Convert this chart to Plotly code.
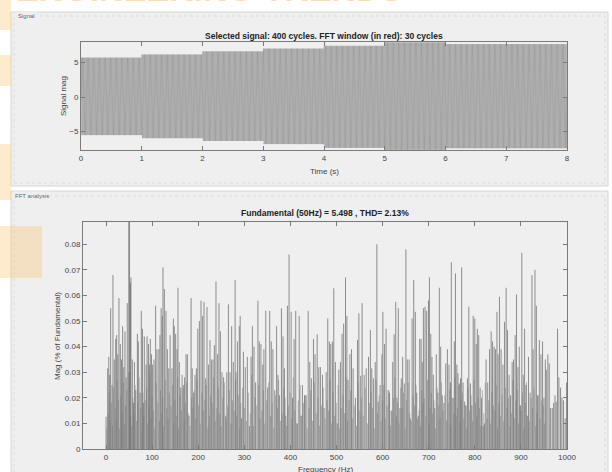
import plotly.graph_objects as go

# ---------------- data ----------------
# Top panel: 50 Hz signal, 400 cycles over 8 s, peak levels per time segment
signal_freq_hz = 50
signal_cycles = 400
seg_start_s = [0, 1, 2, 3, 4, 5, 6]
seg_end_s = [1, 2, 3, 4, 5, 6, 8]
seg_pos_peak = [5.70, 6.15, 6.60, 7.00, 7.40, 7.90, 7.65]
seg_neg_peak = [-5.50, -5.95, -6.35, -6.80, -7.35, -7.63, -7.40]

# Bottom panel: FFT bars (Hz, % of fundamental)
fund_freq = 50
fund_mag = 100.0
fft_freq = [
    0, 3.5, 6, 8, 10, 13, 15, 18, 21, 23, 25.5, 28, 31, 33.5, 36, 38.5, 41, 43.5, 46,
    53, 54, 57, 59.5, 61.5, 64.5, 68, 70, 74, 76.5, 79, 81, 83, 87, 89, 92, 94, 96, 98.5,
    101, 104, 107.5, 110.5, 114.5, 117, 119.5, 122, 123.5, 126.5, 130, 133, 136, 139, 143,
    146, 148, 151, 154, 156, 159, 162, 165, 168.5, 170.5, 173.5, 176.5, 180, 184.5, 187,
    190, 193, 196, 199, 202.5, 206, 209.5, 212.5, 216, 219, 222.5, 225.5, 228.5, 232, 235,
    238.5, 242, 245, 248, 251.5, 255, 259.5, 262, 265.5, 269, 272.5, 276, 280, 282, 285,
    289, 291, 294, 298, 302, 306.5, 311, 314.5, 317.5, 321, 324.5, 329.5, 332.5, 336, 340,
    342.5, 346.5, 350.5, 355, 358.5, 362, 366, 370, 373, 376, 380.5, 384, 387, 390, 393.5,
    397, 401.5, 404.5, 408, 411.5, 415, 419, 423, 426, 430.5, 434, 438.5, 442, 445.5, 450,
    453.5, 458, 461.5, 465, 469.5, 473, 477.5, 481, 484.5, 487.5, 491, 494, 497.5, 501.5,
    505, 508.5, 512, 515.5, 519.5, 522.5, 525, 529, 532.5, 536, 541, 545.5, 548.5, 552.5,
    555.5, 560, 564.5, 569.5, 573.5, 576.5, 580, 584, 587.5, 590.5, 594.5, 598.5, 600.5,
    604, 607.5, 612, 615, 618.5, 622, 625, 628.5, 631, 634, 637.5, 640.5, 643.5, 647, 650.5,
    653.5, 657.5, 660, 664, 667.5, 671, 674, 677.5, 680.5, 683.5, 686, 688.5, 692, 695.5,
    699.5, 701.5, 704.5, 707, 710, 713, 716.5, 720, 723, 726, 729.5, 733, 737, 740.5, 744,
    747, 749, 753, 755.5, 758, 761, 763.5, 766.5, 769, 771.5, 774.5, 778, 781, 784, 787,
    790.5, 793.5, 796.5, 800, 803, 805.5, 808.5, 811.5, 814.5, 818, 821, 824.5, 828, 832,
    835.5, 838.5, 842, 845, 848, 850.5, 853.5, 857, 861, 864.5, 868, 871, 874.5, 877.5, 881,
    884, 887.5, 890.5, 893.5, 896.5, 899, 902, 905, 908, 911, 913.5, 916.5, 920, 924, 926.5,
    930.5, 933.5, 936, 940, 943.5, 947, 950, 953, 955, 958.5, 961.5, 964.5, 968, 971, 974,
    976.5, 979.5, 982.5, 986, 989, 992.5, 996, 999,
]
fft_mag = [
    0.0126, 0.0315, 0.036, 0.029, 0.055, 0.025, 0.068, 0.035, 0.043, 0.0445, 0.037, 0.059,
    0.041, 0.035, 0.048, 0.032, 0.046, 0.028, 0.057,
    0.065, 0.067, 0.035, 0.018, 0.034, 0.023, 0.045, 0.042, 0.022, 0.054, 0.047, 0.018,
    0.044, 0.033, 0.044, 0.041, 0.033, 0.043, 0.037,
    0.033, 0.035, 0.056, 0.039, 0.039, 0.0445, 0.055, 0.052, 0.071, 0.0625, 0.054, 0.039,
    0.0315, 0.0445, 0.0315,
    0.051, 0.048, 0.045, 0.039, 0.063, 0.034, 0.024, 0.029, 0.025, 0.028, 0.037, 0.037,
    0.013, 0.059, 0.0315,
    0.022, 0.029, 0.0315, 0.047, 0.050, 0.058, 0.052, 0.0575, 0.0276, 0.0555, 0.033, 0.0425,
    0.035, 0.035, 0.0406,
    0.0654, 0.037, 0.057, 0.046, 0.030, 0.028, 0.013, 0.030, 0.0565, 0.030, 0.048, 0.034,
    0.066, 0.030, 0.042,
    0.048, 0.052, 0.012, 0.038, 0.032, 0.036, 0.009, 0.036, 0.048, 0.040, 0.026, 0.058,
    0.042, 0.041, 0.033,
    0.039, 0.054, 0.024, 0.054, 0.042, 0.039, 0.023, 0.048, 0.029, 0.021, 0.055, 0.044,
    0.0315, 0.013, 0.056,
    0.076, 0.0536, 0.020, 0.043, 0.054, 0.010, 0.052, 0.013, 0.025, 0.021, 0.021, 0.054,
    0.034, 0.0276, 0.043,
    0.037, 0.0448, 0.032, 0.032, 0.029, 0.016, 0.030, 0.051, 0.042, 0.041, 0.042, 0.0628,
    0.034, 0.010,
    0.031, 0.034, 0.045, 0.049, 0.067, 0.052, 0.027, 0.037, 0.039, 0.0315, 0.020, 0.0426,
    0.053, 0.0286,
    0.057, 0.029, 0.0315, 0.036, 0.0465, 0.0315, 0.0276, 0.034, 0.080, 0.0185, 0.025, 0.037,
    0.0536,
    0.041, 0.047, 0.023, 0.022, 0.015, 0.034, 0.0448, 0.0575, 0.020, 0.055, 0.016, 0.0276,
    0.036, 0.0256, 0.078,
    0.035, 0.035, 0.012, 0.051, 0.066, 0.0536, 0.022, 0.013, 0.043, 0.043, 0.034, 0.055,
    0.0556, 0.054,
    0.058, 0.067, 0.045, 0.036, 0.029, 0.016, 0.037, 0.022, 0.063, 0.040, 0.021, 0.018,
    0.0335, 0.039, 0.033,
    0.026, 0.073, 0.020, 0.042, 0.0686, 0.033, 0.0296, 0.0256, 0.0276, 0.071, 0.026, 0.0185,
    0.017, 0.0276, 0.0556,
    0.0256, 0.017, 0.052, 0.051, 0.041, 0.047, 0.0445, 0.024, 0.020, 0.009, 0.010, 0.035,
    0.026, 0.039,
    0.046, 0.042, 0.040, 0.039, 0.0536, 0.037, 0.0595, 0.039, 0.033, 0.0497, 0.063, 0.0465,
    0.029, 0.021, 0.034,
    0.035, 0.0445, 0.0604, 0.032, 0.040, 0.017, 0.0767, 0.029, 0.047, 0.025, 0.013, 0.036,
    0.022, 0.068, 0.039,
    0.070, 0.056, 0.021, 0.0426, 0.037, 0.042, 0.020, 0.035, 0.031, 0.037, 0.0335, 0.016,
    0.016, 0.018, 0.021,
    0.0185, 0.047, 0.028, 0.024, 0.020, 0.019, 0.012, 0.026,
]
# shorter bins lying between the visible tall bins (thousandths of % of fundamental),
# one per gap between consecutive entries of fft_freq
fft_minor_milli = [
    8, 14, 22, 11, 18, 9, 24, 16, 12, 27, 19, 8, 21, 15, 26, 10, 17, 23, 30, 13,
    9, 20, 14, 25, 11, 18, 28, 16, 7, 22, 13, 19, 24, 10, 17, 29, 12, 21, 15, 8,
    26, 18, 11, 23, 14, 20, 9, 27, 16, 12, 22, 17, 25, 10, 19, 13, 28, 8, 21, 15,
    24, 11, 18, 26, 14, 9, 20, 16, 23, 12, 27, 17, 10, 22, 15, 19, 25, 8, 13, 21,
    18, 28, 11, 16, 24, 14, 9, 20, 26, 12, 17, 23, 10, 19, 15, 27, 13, 21, 8, 18,
    24, 16, 11, 22, 14, 29, 9, 20, 17, 25, 12, 15, 23, 10, 19, 26, 13, 18, 8, 21,
    16, 27, 11, 14, 24, 20, 9, 17, 22, 12, 28, 15, 10, 19, 25, 13, 18, 21, 8, 16,
    23, 11, 26, 14, 20, 9, 17, 24, 12, 19, 15, 27, 10, 22, 13, 18, 25, 8, 16, 21,
    14, 28, 11, 19, 23, 12, 17, 9, 26, 15, 20, 13, 24, 10, 18, 22, 16, 8, 27, 14,
    21, 11, 19, 25, 12, 17, 23, 9, 15, 20, 28, 13, 18, 10, 24, 16, 22, 8, 19, 26,
    14, 11, 21, 17, 25, 12, 15, 9, 23, 18, 20, 13, 27, 10, 16, 22, 14, 19, 8, 24,
    17, 12, 26, 15, 21, 11, 18, 23, 9, 20, 14, 28, 13, 16, 25, 10, 19, 22, 12, 17,
    8, 24, 15, 21, 11, 27, 18, 13, 20, 16, 9, 23, 14, 26, 12, 19, 10, 22, 17, 15,
    25, 8, 18, 13, 21, 11, 24, 16, 20, 9, 14, 27, 12, 19, 23, 10, 17, 15, 22, 8,
    18, 26, 13, 11, 20, 16, 24, 9, 14, 21, 12, 19, 17, 10,
]

time_ticks = [0, 1, 2, 3, 4, 5, 6, 7, 8]
sig_ticks = [-5, 0, 5]
freq_ticks = [0, 100, 200, 300, 400, 500, 600, 700, 800, 900, 1000]
mag_ticks = [0, 0.01, 0.02, 0.03, 0.04, 0.05, 0.06, 0.07, 0.08]
mag_tick_text = ["0", "0.01", "0.02", "0.03", "0.04", "0.05", "0.06", "0.07", "0.08"]

top_title = "Selected signal: 400 cycles. FFT window (in red): 30 cycles"
bottom_title = "Fundamental (50Hz) = 5.498 , THD= 2.13%"

# ---------------- build marks ----------------
W, H = 612, 472
def px(x):
    return x / W
def py(y):
    return 1 - y / H

# signal waveform: one peak and one trough per cycle at the read segment levels
sig_t, sig_v = [], []
period = 1.0 / signal_freq_hz
for k in range(signal_cycles):
    t0 = k * period
    for s0, s1, pp, nn in zip(seg_start_s, seg_end_s, seg_pos_peak, seg_neg_peak):
        if s0 <= t0 < s1:
            sig_t += [t0 + 0.25 * period, t0 + 0.75 * period]
            sig_v += [pp, nn]
            break
sig_t = [0.0] + sig_t + [seg_end_s[-1]]
sig_v = [0.0] + sig_v + [0.0]

# FFT stems
stem_x, stem_y = [], []
for f, m in zip(fft_freq, fft_mag):
    stem_x += [f, f, None]
    stem_y += [0, m, None]
minor_x, minor_y = [], []
for i, mm in enumerate(fft_minor_milli[: len(fft_freq) - 1]):
    f = 0.5 * (fft_freq[i] + fft_freq[i + 1])
    minor_x += [f, f, None]
    minor_y += [0, mm / 1000.0, None]

fig = go.Figure()
fig.add_trace(go.Scatter(x=sig_t, y=sig_v, mode="lines",
                         line=dict(color="rgba(120,120,120,0.55)", width=0.8),
                         xaxis="x", yaxis="y", hoverinfo="skip", showlegend=False))
fig.add_trace(go.Scatter(x=minor_x, y=minor_y, mode="lines",
                         line=dict(color="rgba(160,160,160,0.8)", width=1),
                         xaxis="x2", yaxis="y2", hoverinfo="skip", showlegend=False))
fig.add_trace(go.Scatter(x=stem_x, y=stem_y, mode="lines",
                         line=dict(color="rgba(115,115,115,0.8)", width=1),
                         xaxis="x2", yaxis="y2", hoverinfo="skip", showlegend=False))
fig.add_trace(go.Scatter(x=[fund_freq, fund_freq], y=[0, fund_mag], mode="lines",
                         line=dict(color="#404040", width=1),
                         xaxis="x2", yaxis="y2", hoverinfo="skip", showlegend=False))

axis_common = dict(showline=True, linecolor="#7a7a7a", linewidth=1, mirror="ticks",
                   ticks="inside", ticklen=4, tickcolor="#7a7a7a", showgrid=False,
                   zeroline=False, automargin=False,
                   tickfont=dict(family="Liberation Sans", size=8, color="#444"))

fig.update_layout(
    width=W, height=H,
    margin=dict(l=0, r=0, t=0, b=0, pad=0),
    paper_bgcolor="white", plot_bgcolor="white",
    xaxis=dict(domain=[px(81), px(567)], range=[0, 8], tickvals=time_ticks,
               anchor="y", **axis_common),
    yaxis=dict(domain=[py(150), py(42)], range=[-7.65, 7.95], tickvals=sig_ticks,
               anchor="x", **axis_common),
    xaxis2=dict(domain=[px(83), px(567)], range=[-50, 1000], tickvals=freq_ticks,
                anchor="y2", **axis_common),
    yaxis2=dict(domain=[py(449), py(222)], range=[0, 0.0887], tickvals=mag_ticks,
                ticktext=mag_tick_text, anchor="x2", **axis_common),
)

shapes = []
# group panels
shapes.append(dict(type="rect", xref="paper", yref="paper", x0=px(11), x1=px(608),
                   y0=py(186), y1=py(12), fillcolor="#efefef",
                   line=dict(color="#d6d6d6", width=1), layer="below"))
shapes.append(dict(type="rect", xref="paper", yref="paper", x0=px(11), x1=px(608),
                   y0=py(475), y1=py(191), fillcolor="#efefef",
                   line=dict(color="#d6d6d6", width=1), layer="below"))
# inner group box lines
shapes.append(dict(type="rect", xref="paper", yref="paper", x0=px(14), x1=px(605),
                   y0=py(183), y1=py(16), line=dict(color="#dcdcdc", width=1, dash="dot"),
                   layer="below"))
shapes.append(dict(type="rect", xref="paper", yref="paper", x0=px(14), x1=px(605),
                   y0=py(480), y1=py(196), line=dict(color="#dcdcdc", width=1, dash="dot"),
                   layer="below"))
# watermark blocks (light orange)
wm = "rgba(252,196,110,0.35)"
for (x0, x1, y0, y1) in [(0, 11, 0, 30), (0, 11, 55, 86), (0, 11, 144, 200), (0, 42, 226, 278)]:
    shapes.append(dict(type="rect", xref="paper", yref="paper", x0=px(x0), x1=px(x1),
                       y0=py(y1), y1=py(y0), fillcolor=wm, line=dict(width=0), layer="above"))
fig.update_layout(shapes=shapes)

ann = []
ann.append(dict(text="<b>ENGINEERING TRENDS</b>", xref="paper", yref="paper", x=px(14), y=py(10),
                xanchor="left", yanchor="bottom", showarrow=False,
                font=dict(family="Liberation Sans", size=34, color="rgba(252,190,100,0.5)")))
ann.append(dict(text="Signal", xref="paper", yref="paper", x=px(16), y=py(16),
                xanchor="left", yanchor="middle", showarrow=False,
                font=dict(family="Liberation Sans", size=6, color="#666"), bgcolor="#efefef"))
ann.append(dict(text="FFT analysis", xref="paper", yref="paper", x=px(13), y=py(196),
                xanchor="left", yanchor="middle", showarrow=False,
                font=dict(family="Liberation Sans", size=6, color="#666"), bgcolor="#efefef"))
ann.append(dict(text="<b>" + top_title + "</b>", xref="paper", yref="paper", x=px(324), y=py(36),
                xanchor="center", yanchor="middle", showarrow=False,
                font=dict(family="Liberation Sans", size=8.5, color="#222")))
ann.append(dict(text="<b>" + bottom_title + "</b>", xref="paper", yref="paper", x=px(325), y=py(213),
                xanchor="center", yanchor="middle", showarrow=False,
                font=dict(family="Liberation Sans", size=8.5, color="#222")))
ann.append(dict(text="Time (s)", xref="paper", yref="paper", x=px(324), y=py(171),
                xanchor="center", yanchor="middle", showarrow=False,
                font=dict(family="Liberation Sans", size=8, color="#444")))
ann.append(dict(text="Signal mag", xref="paper", yref="paper", x=px(63), y=py(96),
                xanchor="center", yanchor="middle", showarrow=False, textangle=-90,
                font=dict(family="Liberation Sans", size=8, color="#444")))
ann.append(dict(text="Frequency (Hz)", xref="paper", yref="paper", x=px(325), y=py(469),
                xanchor="center", yanchor="middle", showarrow=False,
                font=dict(family="Liberation Sans", size=8, color="#444")))
ann.append(dict(text="Mag (% of Fundamental)", xref="paper", yref="paper", x=px(57), y=py(336),
                xanchor="center", yanchor="middle", showarrow=False, textangle=-90,
                font=dict(family="Liberation Sans", size=8, color="#444")))
fig.update_layout(annotations=ann)

fig.write_html("out.html", config={"responsive": False, "displayModeBar": False},
               post_script="document.body.style.margin='0';document.body.style.overflow='hidden';")
